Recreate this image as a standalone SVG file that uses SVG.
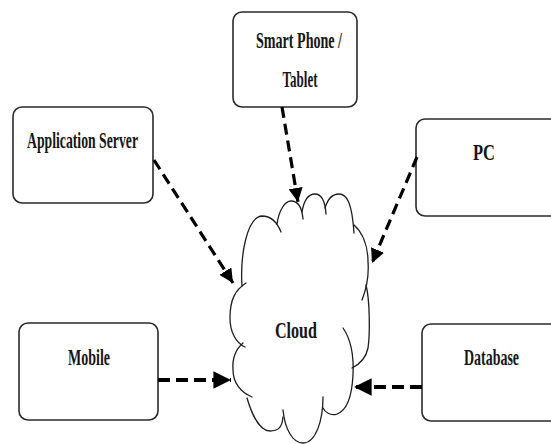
<svg xmlns="http://www.w3.org/2000/svg" width="551" height="444" viewBox="0 0 551 444">
  <style>
    .box { fill: #ffffff; stroke: #2a2a2a; stroke-width: 1.6; }
    .label { font-family: "Liberation Serif", "Times New Roman", serif; font-weight: bold; font-size: 23px; fill: #161616; text-anchor: middle; }
    .cloud { fill: none; stroke: #1e1e1e; stroke-width: 1.3; stroke-linecap: round; }
    .link { fill: none; stroke: #000000; stroke-width: 3.2; stroke-dasharray: 11 6; }
    .linkh { fill: none; stroke: #000000; stroke-width: 4; stroke-dasharray: 12 6; }
  </style>
  <defs>
    <marker id="head" viewBox="0 0 10 10" refX="10" refY="5" markerWidth="4.4" markerHeight="4.4" markerUnits="strokeWidth" orient="auto">
      <path d="M0,0 L10,5 L0,10 Z" fill="#000000"/>
    </marker>
  </defs>
  <rect width="551" height="444" fill="#ffffff"/>

  <g id="smartphone">
    <rect class="box" x="233" y="12" width="124" height="95" rx="9"/>
    <text class="label" x="299" y="48" textLength="86" lengthAdjust="spacingAndGlyphs">Smart Phone /</text>
    <text class="label" x="300" y="87" textLength="35" lengthAdjust="spacingAndGlyphs">Tablet</text>
  </g>

  <g id="appserver">
    <rect class="box" x="13" y="107" width="140" height="96" rx="9"/>
    <text class="label" x="82.5" y="148" textLength="111" lengthAdjust="spacingAndGlyphs">Application Server</text>
  </g>

  <g id="pc">
    <rect class="box" x="416" y="119" width="145" height="97" rx="9"/>
    <text class="label" x="484" y="160" textLength="22" lengthAdjust="spacingAndGlyphs">PC</text>
  </g>

  <g id="mobile">
    <rect class="box" x="19" y="323" width="139" height="97" rx="9"/>
    <text class="label" x="89" y="365" textLength="42" lengthAdjust="spacingAndGlyphs">Mobile</text>
  </g>

  <g id="database">
    <rect class="box" x="422" y="324" width="140" height="97" rx="9"/>
    <text class="label" x="491.5" y="365" textLength="55" lengthAdjust="spacingAndGlyphs">Database</text>
  </g>

  <g id="cloud">
    <!-- scalloped outline built from overlapping arcs -->
    <path class="cloud" d="M242,286 C240,255 247,217 262,216 C271,216 277,222 281,232"/>
    <path class="cloud" d="M277,224 C279,210 285,201 291,201 C298,201 302,208 303,219"/>
    <path class="cloud" d="M302,212 C304,200 309,194 315,194 C321,194 325,200 326,214"/>
    <path class="cloud" d="M325,208 C328,198 333,194 339,194 C347,194 352,203 354,233"/>
    <path class="cloud" d="M354,225 C362,232 368,245 368,262 C369,275 366,290 362,300"/>
    <path class="cloud" d="M366,285 C370,300 370,335 368,348 C366,358 360,364 352,368"/>
    <path class="cloud" d="M343,328 C350,338 354,355 353,375 C352,395 348,410 337,414 C330,416 325,412 323,408"/>
    <path class="cloud" d="M323,397 C323,420 316,443 303,443 C293,443 285,430 283,410"/>
    <path class="cloud" d="M283,417 C282,428 278,431 270,431 C260,431 252,415 247,398"/>
    <path class="cloud" d="M252,397 C240,392 233,382 233,370 C232,358 235,350 243,343"/>
    <path class="cloud" d="M245,347 C236,343 230,332 230,318 C230,300 235,290 246,283"/>
    <text class="label" x="296" y="338" font-size="29" textLength="42" lengthAdjust="spacingAndGlyphs">Cloud</text>
  </g>

  <g id="connectors">
    <line class="link" x1="282" y1="107" x2="298" y2="202" marker-end="url(#head)"/>
    <line class="link" x1="154" y1="160" x2="233" y2="283" marker-end="url(#head)"/>
    <line class="link" x1="417" y1="157" x2="372" y2="263" marker-end="url(#head)"/>
    <line class="linkh" x1="158" y1="380" x2="231" y2="380" marker-end="url(#head)"/>
    <line class="linkh" x1="422" y1="387" x2="354" y2="387" marker-end="url(#head)"/>
  </g>
</svg>
